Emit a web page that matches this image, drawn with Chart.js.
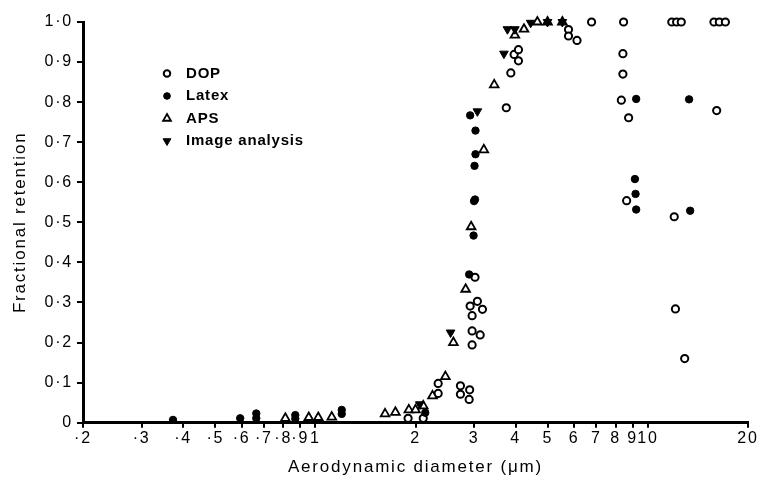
<!DOCTYPE html>
<html>
<head>
<meta charset="utf-8">
<script src="https://cdn.jsdelivr.net/npm/chart.js@4"></script>
<style>
    body { margin: 0; background: #fff; }
    #chart { display: block; }
</style>
</head>
<body>
<canvas id="chart" width="762" height="482"></canvas>
<script>
// diameter in um, fractional retention
const dopDiameter = [1.90, 2.11, 2.34, 2.34, 2.73, 2.91, 2.73, 2.90, 2.96, 2.96, 3.13, 2.96, 2.92, 3.07, 3.18, 3.02,
    3.75, 3.87, 3.96, 4.08, 4.08, 5.77, 5.77, 6.12, 6.77, 8.45, 8.41, 8.41, 8.32, 8.75, 8.63,
    11.8, 12.2, 12.6, 12.0, 12.1, 12.9, 15.8, 16.4, 17.1, 16.1];
const dopRetention = [0.011, 0.011, 0.098, 0.073, 0.092, 0.082, 0.071, 0.058, 0.194, 0.229, 0.219, 0.267, 0.291, 0.303, 0.283, 0.363,
    0.786, 0.873, 0.919, 0.931, 0.903, 0.981, 0.965, 0.954, 1.0, 1.0, 0.921, 0.870, 0.805, 0.761, 0.554,
    1.0, 1.0, 1.0, 0.514, 0.284, 0.160, 1.0, 1.0, 1.0, 0.779];

const latexDiameter = [0.373, 0.594, 0.664, 0.664, 0.87, 0.87, 1.20, 1.20, 2.14,
    2.90, 2.99, 3.0, 3.02, 3.01, 3.03, 3.03, 2.92, 9.22, 13.3, 9.14, 9.18, 9.22, 13.4];
const latexRetention = [0.007, 0.011, 0.023, 0.011, 0.019, 0.010, 0.032, 0.022, 0.025,
    0.370, 0.467, 0.553, 0.557, 0.641, 0.670, 0.729, 0.767, 0.808, 0.807, 0.608, 0.571, 0.532, 0.529];

const apsDiameter = [0.812, 0.955, 1.02, 1.12, 1.62, 1.74, 1.91, 2.0, 2.11, 2.25, 2.46, 2.60, 2.83, 2.94,
    3.21, 3.45, 3.98, 4.24, 4.65, 4.99, 5.53];
const apsRetention = [0.011, 0.013, 0.013, 0.014, 0.022, 0.026, 0.032, 0.032, 0.042, 0.067, 0.115, 0.200, 0.333, 0.489,
    0.681, 0.843, 0.967, 0.982, 1.0, 1.0, 1.0];

const imageDiameter = [2.06, 2.55, 3.07, 3.69, 3.78, 3.98, 4.44, 4.99, 5.53];
const imageRetention = [0.046, 0.225, 0.777, 0.921, 0.982, 0.982, 0.998, 1.0, 1.0];

const xTickValues = [0.2, 0.3, 0.4, 0.5, 0.6, 0.7, 0.8, 0.9, 1, 2, 3, 4, 5, 6, 7, 8, 9, 10, 20];

const FONT = "'Liberation Sans', Arial, Helvetica, sans-serif";

function toPoints(xs, ys) {
    return xs.map((x, i) => ({ x: x, y: ys[i] }));
}

// old journal typesetting is a little spaced out
const spacing = {
    id: 'spacing',
    beforeLayout(chart) { chart.ctx.letterSpacing = '1.8px'; },
    beforeDraw(chart) { chart.ctx.letterSpacing = '1.8px'; },
};

// legend sits inside the plot, top left
const insideLegend = {
    id: 'insideLegend',
    afterDraw(chart) {
        const ctx = chart.ctx;
        ctx.save();
        ctx.letterSpacing = '0.8px';
        ctx.font = 'bold 15px ' + FONT;
        ctx.textBaseline = 'alphabetic';
        ctx.textAlign = 'left';
        chart.data.datasets.forEach((ds, i) => {
            const baseline = 77.5 + i * 22.5;
            ctx.fillStyle = ds.backgroundColor;
            ctx.strokeStyle = ds.borderColor;
            ctx.lineWidth = ds.borderWidth;
            Chart.helpers.drawPoint(ctx, {
                pointStyle: ds.pointStyle,
                rotation: ds.rotation || 0,
                radius: ds.pointRadius * 0.9,
                borderWidth: ds.borderWidth,
            }, 167, baseline - 4);
            ctx.fillStyle = '#000';
            ctx.fillText(ds.label, 186, baseline);
        });
        ctx.restore();
    },
};

new Chart(document.getElementById('chart'), {
    type: 'scatter',
    data: {
        datasets: [
            {
                label: 'DOP',
                data: toPoints(dopDiameter, dopRetention),
                pointStyle: 'circle',
                pointRadius: 3.6,
                borderWidth: 2,
                borderColor: '#000',
                backgroundColor: '#fff',
                order: 4,
                clip: false,
            },
            {
                label: 'Latex',
                data: toPoints(latexDiameter, latexRetention),
                pointStyle: 'circle',
                pointRadius: 3.7,
                borderWidth: 1,
                borderColor: '#000',
                backgroundColor: '#000',
                order: 2,
                clip: false,
            },
            {
                label: 'APS',
                data: toPoints(apsDiameter, apsRetention),
                pointStyle: 'triangle',
                pointRadius: 5,
                borderWidth: 1.8,
                borderColor: '#000',
                backgroundColor: '#fff',
                order: 3,
                clip: false,
            },
            {
                label: 'Image analysis',
                data: toPoints(imageDiameter, imageRetention),
                pointStyle: 'triangle',
                rotation: 180,
                pointRadius: 5,
                borderWidth: 1,
                borderColor: '#000',
                backgroundColor: '#000',
                order: 1,
                clip: false,
            },
        ],
    },
    options: {
        responsive: false,
        devicePixelRatio: 1,
        animation: false,
        events: [],
        layout: { padding: { left: 0, right: 14, top: 22, bottom: 0 } },
        plugins: {
            legend: { display: false },
            tooltip: { enabled: false },
        },
        scales: {
            x: {
                type: 'logarithmic',
                min: 0.2,
                max: 20,
                afterBuildTicks: (scale) => {
                    scale.ticks = xTickValues.map(v => ({ value: v }));
                },
                afterFit: (scale) => { scale.height = 59.3; },
                border: { display: true, color: '#000', width: 3 },
                grid: { drawOnChartArea: false, drawTicks: true, tickLength: 5, color: '#000', lineWidth: 2 },
                ticks: {
                    autoSkip: false,
                    maxRotation: 0,
                    padding: 1,
                    color: '#000',
                    font: { family: FONT, size: 16 },
                    callback: (value) => value < 1 ? '\u00b7' + Math.round(value * 10) : String(value),
                },
                title: {
                    display: true,
                    text: 'Aerodynamic diameter (\u03bcm)',
                    color: '#000',
                    font: { family: FONT, size: 17 },
                    padding: { top: 0, bottom: 4 },
                },
            },
            y: {
                min: 0,
                max: 1,
                afterFit: (scale) => { scale.width = 83; },
                border: { display: true, color: '#000', width: 3 },
                grid: { drawOnChartArea: false, drawTicks: true, tickLength: 6, color: '#000', lineWidth: 2 },
                ticks: {
                    stepSize: 0.1,
                    padding: 4,
                    color: '#000',
                    font: { family: FONT, size: 16 },
                    callback: (value) => {
                        if (value === 0) return '0';
                        const tenths = Math.round(value * 10);
                        return tenths === 10 ? '1\u00b70' : '0\u00b7' + tenths;
                    },
                },
                title: {
                    display: true,
                    text: 'Fractional retention',
                    color: '#000',
                    font: { family: FONT, size: 17 },
                    padding: { top: 10, bottom: 0 },
                },
            },
        },
    },
    plugins: [spacing, insideLegend],
});
</script>
</body>
</html>
